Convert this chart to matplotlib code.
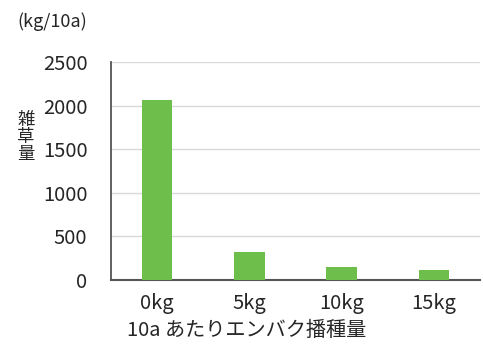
import matplotlib
matplotlib.use("Agg")
import matplotlib.pyplot as plt

plt.rcParams['font.family'] = ['Noto Sans CJK JP', 'DejaVu Sans']

categories = ["0kg", "5kg", "10kg", "15kg"]
values = [2060, 320, 150, 110]
yticks = [0, 500, 1000, 1500, 2000, 2500]

fig = plt.figure(figsize=(4.83, 3.45), dpi=100)
ax = fig.add_axes([111/483, 1 - 280/345, (480-111)/483, (280-62)/345])

x = list(range(len(categories)))
ax.bar(x, values, width=0.33, color="#6DBE4B", zorder=3)
ax.set_xlim(-0.5, 3.5)
ax.set_ylim(0, 2500)
ax.set_yticks(yticks)
ax.set_yticklabels([str(v) for v in yticks], fontsize=14.5, color="#262626")
ax.set_xticks(x)
ax.set_xticklabels(categories, fontsize=14.5, color="#262626")
ax.tick_params(axis='both', length=0)
ax.tick_params(axis='y', pad=17)
ax.tick_params(axis='x', pad=9)
ax.grid(axis='y', color="#D9D9D9", linewidth=1, zorder=0)
for s in ['top', 'right']:
    ax.spines[s].set_visible(False)
ax.spines['left'].set_color("#555555")
ax.spines['bottom'].set_color("#555555")
ax.spines['left'].set_linewidth(1.3)
ax.spines['bottom'].set_linewidth(1.5)

fig.text(52/483, 1 - 22/345, "(kg/10a)", fontsize=13, color="#262626", ha='center', va='center')
fig.text(26/483, 1 - 137/345, "雑\n草\n量", fontsize=12.5, color="#262626", ha='center', va='center', linespacing=0.95)
fig.text(247/483, 1 - 330/345, "10a あたりエンバク播種量", fontsize=14.5, color="#262626", ha='center', va='center')

fig.savefig("out.png", dpi=100)
